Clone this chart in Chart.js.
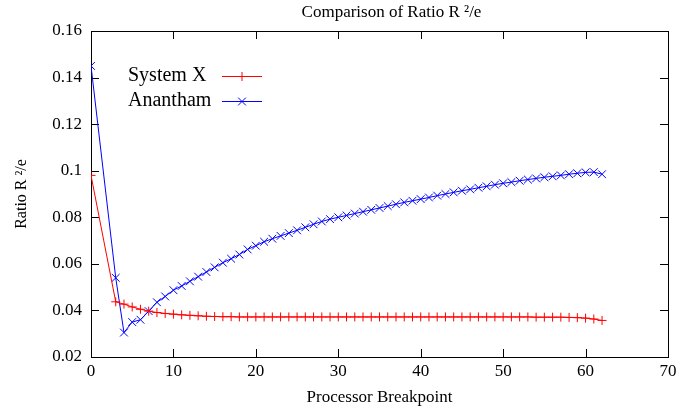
<!DOCTYPE html>
<html>
<head>
<meta charset="utf-8">
<script src="https://cdn.jsdelivr.net/npm/chart.js@4.4.0/dist/chart.umd.min.js"></script>
<style>
  html, body { margin: 0; padding: 0; background: #fff; }
  #wrap { width: 700px; height: 408px; }
</style>
</head>
<body>
<div id="wrap"><canvas id="chart"></canvas></div>
<script>
const breakpoints = [0, 3, 4, 5, 6, 7, 8, 9, 10, 11, 12, 13, 14, 15, 16, 17, 18, 19, 20,
  21, 22, 23, 24, 25, 26, 27, 28, 29, 30, 31, 32, 33, 34, 35, 36, 37, 38, 39, 40,
  41, 42, 43, 44, 45, 46, 47, 48, 49, 50, 51, 52, 53, 54, 55, 56, 57, 58, 59, 60, 61, 62];

const systemX = [0.098, 0.0437, 0.0427, 0.0415, 0.0405, 0.0397, 0.0391, 0.0387, 0.0384, 0.0381,
  0.0379, 0.0377, 0.0375, 0.0374, 0.0373, 0.0373, 0.0372, 0.0372, 0.0372, 0.0372,
  0.0372, 0.0372, 0.0372, 0.0372, 0.0372, 0.0372, 0.0372, 0.0372, 0.0372, 0.0372,
  0.0372, 0.0372, 0.0372, 0.0372, 0.0372, 0.0372, 0.0372, 0.0372, 0.0372, 0.0372,
  0.0372, 0.0372, 0.0372, 0.0372, 0.0372, 0.0372, 0.0372, 0.0372, 0.0372, 0.0372,
  0.0372, 0.0372, 0.0371, 0.0371, 0.0371, 0.0371, 0.0370, 0.0369, 0.0367, 0.0363, 0.0357];

const anantham = [0.145, 0.054, 0.0305, 0.035, 0.036, 0.0397, 0.0435, 0.046, 0.0487, 0.0505,
  0.0525, 0.0545, 0.0565, 0.0585, 0.0605, 0.0622, 0.064, 0.0662, 0.0678, 0.0695,
  0.0708, 0.072, 0.0732, 0.0744, 0.0757, 0.077, 0.0782, 0.0792, 0.08, 0.0808,
  0.0816, 0.0824, 0.0832, 0.084, 0.0848, 0.0856, 0.0864, 0.0871, 0.0878, 0.0885,
  0.0893, 0.09, 0.0907, 0.0914, 0.092, 0.0927, 0.0933, 0.094, 0.0946, 0.0951,
  0.0957, 0.0962, 0.0967, 0.0972, 0.0976, 0.098, 0.0985, 0.0989, 0.0993, 0.0994, 0.0985];

const xTicks = [0, 10, 20, 30, 40, 50, 60, 70];
const yTicks = [0.02, 0.04, 0.06, 0.08, 0.1, 0.12, 0.14, 0.16];
const yTickLabels = ['0.02', '0.04', '0.06', '0.08', '0.1', '0.12', '0.14', '0.16'];

const FONT = '"Liberation Serif", "DejaVu Serif", serif';

// gnuplot style frame: box with inward ticks on all four sides, plus title and key
const gnuplotFrame = {
    id: 'gnuplotFrame',
    beforeDatasetsDraw(chart) {
        const { ctx, chartArea: a, scales } = chart;
        ctx.save();
        ctx.strokeStyle = '#000';
        ctx.lineWidth = 1;
        ctx.strokeRect(Math.round(a.left) + 0.5, Math.round(a.top) + 0.5,
            Math.round(a.right - a.left), Math.round(a.bottom - a.top));
        ctx.beginPath();
        xTicks.forEach(v => {
            const x = Math.round(scales.x.getPixelForValue(v)) + 0.5;
            ctx.moveTo(x, a.bottom); ctx.lineTo(x, a.bottom - 8);
            ctx.moveTo(x, a.top); ctx.lineTo(x, a.top + 8);
        });
        yTicks.forEach(v => {
            const y = Math.round(scales.y.getPixelForValue(v)) + 0.5;
            ctx.moveTo(a.left, y); ctx.lineTo(a.left + 8, y);
            ctx.moveTo(a.right, y); ctx.lineTo(a.right - 8, y);
        });
        ctx.stroke();
        ctx.restore();
    },
    afterDatasetsDraw(chart) {
        const { ctx, chartArea: a } = chart;
        ctx.save();
        // title
        ctx.fillStyle = '#000';
        ctx.font = '17px ' + FONT;
        ctx.textAlign = 'center';
        ctx.textBaseline = 'middle';
        ctx.fillText('Comparison of Ratio R \u00B2/e', (a.left + a.right) / 2 + 12, 13);
        // key
        ctx.font = '20px ' + FONT;
        ctx.textAlign = 'left';
        chart.data.datasets.forEach((ds, i) => {
            const y = a.top + 45 + i * 25;
            ctx.fillStyle = '#000';
            ctx.fillText(ds.label, a.left + 37, y);
            ctx.strokeStyle = ds.borderColor;
            ctx.lineWidth = 1;
            ctx.beginPath();
            ctx.moveTo(a.left + 131, y + 0.5);
            ctx.lineTo(a.left + 171, y + 0.5);
            ctx.stroke();
            Chart.helpers.drawPoint(ctx, {
                pointStyle: ds.pointStyle, radius: ds.pointRadius, rotation: 0, borderWidth: 1
            }, a.left + 151, y + 0.5);
        });
        ctx.restore();
    }
};

new Chart(document.getElementById('chart'), {
    type: 'line',
    data: {
        datasets: [
            {
                label: 'System X',
                data: breakpoints.map((x, i) => ({ x: x, y: systemX[i] })),
                borderColor: 'rgb(255, 0, 0)',
                backgroundColor: 'rgb(255, 0, 0)',
                borderWidth: 1,
                pointStyle: 'cross',
                pointRadius: 4.5,
                pointBorderWidth: 1,
                tension: 0,
            },
            {
                label: 'Anantham',
                data: breakpoints.map((x, i) => ({ x: x, y: anantham[i] })),
                borderColor: 'rgb(0, 0, 255)',
                backgroundColor: 'rgb(0, 0, 255)',
                borderWidth: 1,
                pointStyle: 'crossRot',
                pointRadius: 5.5,
                pointBorderWidth: 1,
                tension: 0,
            },
        ],
    },
    options: {
        responsive: true,
        maintainAspectRatio: false,
        animation: false,
        layout: { padding: { top: 31, right: 32, left: 0, bottom: 0 } },
        plugins: {
            legend: { display: false },
            title: { display: false },
            tooltip: { enabled: false },
        },
        scales: {
            x: {
                type: 'linear',
                min: 0,
                max: 70,
                afterBuildTicks: s => { s.ticks = xTicks.map(v => ({ value: v })); },
                afterFit: s => { s.height = 51; },
                grid: { display: false, drawTicks: false },
                border: { display: false },
                ticks: { color: '#000', font: { family: FONT, size: 17 }, padding: 4, maxRotation: 0 },
                title: { display: true, text: 'Processor Breakpoint', color: '#000',
                    font: { family: FONT, size: 17 }, padding: { top: 5, bottom: 0 } },
            },
            y: {
                min: 0.02,
                max: 0.16,
                afterBuildTicks: s => { s.ticks = yTicks.map(v => ({ value: v })); },
                afterFit: s => { s.width = 91; },
                grid: { display: false, drawTicks: false },
                border: { display: false },
                ticks: { color: '#000', font: { family: FONT, size: 17 }, padding: 9,
                    callback: (v, i) => yTickLabels[i] },
                title: { display: true, text: 'Ratio R \u00B2/e', color: '#000',
                    font: { family: FONT, size: 16 }, padding: { top: 12, bottom: 0 } },
            },
        },
    },
    plugins: [gnuplotFrame],
});
</script>
</body>
</html>
